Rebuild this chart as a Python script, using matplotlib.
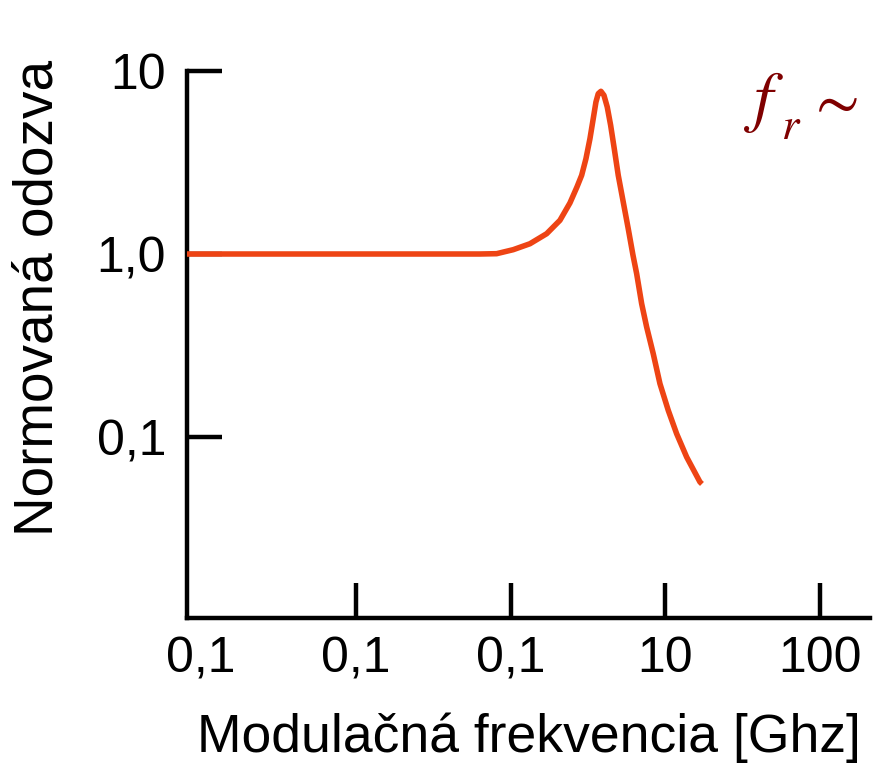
import matplotlib
matplotlib.use("Agg")
import matplotlib.pyplot as plt

# ---- data ----
freq = [0.00812, 0.634, 0.813, 1.041, 1.335, 1.711, 2.085, 2.419, 2.685, 2.880,
        3.070, 3.258, 3.421, 3.562, 3.686, 3.837, 4.012, 4.214, 4.432, 4.677,
        4.963, 5.346, 5.758, 6.176, 6.527, 7.030, 7.571, 8.352, 9.229, 10.44,
        11.83, 13.73, 16.73, 17.24]
response = [1.0, 1.0, 1.004, 1.056, 1.138, 1.291, 1.528, 1.900, 2.323, 2.692,
            3.318, 4.267, 5.487, 6.770, 7.516, 7.746, 7.366, 6.358, 5.050, 3.763,
            2.692, 1.923, 1.375, 0.9875, 0.7806, 0.5352, 0.3993, 0.2852, 0.1956,
            0.1399, 0.1042, 0.0777, 0.0568, 0.0554]

x_ticks = [0.01, 0.1, 1, 10, 100]
x_tick_labels = ["0,1", "0,1", "0,1", "10", "100"]
y_ticks = [0.1, 1, 10]
y_tick_labels = ["0,1", "1,0", "10"]

x_label = "Modulačná frekvencia [Ghz]"
y_label = "Normovaná odozva"

W, H = 879, 767
fig = plt.figure(figsize=(W / 100, H / 100), dpi=100)
plt.rcParams['font.family'] = ['Liberation Sans', 'DejaVu Sans']
plt.rcParams['mathtext.fontset'] = 'stix'

left, right, top, bottom = 187, 870, 71, 618
ax = fig.add_axes([left / W, 1 - bottom / H, (right - left) / W, (bottom - top) / H])

ax.plot(freq, response, color='#EE4414', lw=4.0, solid_joinstyle='round',
        solid_capstyle='butt', zorder=3)

ax.set_xscale('log')
ax.set_yscale('log')
ax.set_xlim(10 ** -2.090, 10 ** 2.322)
ax.set_ylim(10 ** -1.989, 10)

ax.set_xticks(x_ticks)
ax.set_xticklabels(x_tick_labels)
ax.set_yticks(y_ticks)
ax.set_yticklabels(y_tick_labels)
ax.minorticks_off()

for s in ['top', 'right']:
    ax.spines[s].set_visible(False)
for s in ['left', 'bottom']:
    ax.spines[s].set_linewidth(3.2)
    ax.spines[s].set_color('black')
    ax.spines[s].set_capstyle('projecting')

ax.tick_params(axis='both', direction='in', length=25, width=3.2, labelsize=36,
               colors='black')
ax.tick_params(axis='x', pad=13)
ax.tick_params(axis='y', pad=15)
ax.xaxis.get_major_ticks()[0].tick1line.set_visible(False)

fig.text(529 / W, 1 - 752 / H, x_label, fontsize=38.5, ha='center', va='baseline')
fig.text(39 / W, 1 - 298 / H, y_label, fontsize=39.5, ha='center', va='center',
         rotation=90)

ann_color = '#7F0000'
fig.text(743 / W, 1 - 119 / H, r"$f$", fontsize=49, color=ann_color,
         ha='left', va='baseline')
fig.text(781 / W, 1 - 139 / H, r"$r$", fontsize=32, color=ann_color,
         ha='left', va='baseline')
fig.text(806 / W, 1 - 119 / H, r"$\sim$", fontsize=46, color=ann_color,
         ha='left', va='baseline')

fig.savefig("out.png", dpi=100)
